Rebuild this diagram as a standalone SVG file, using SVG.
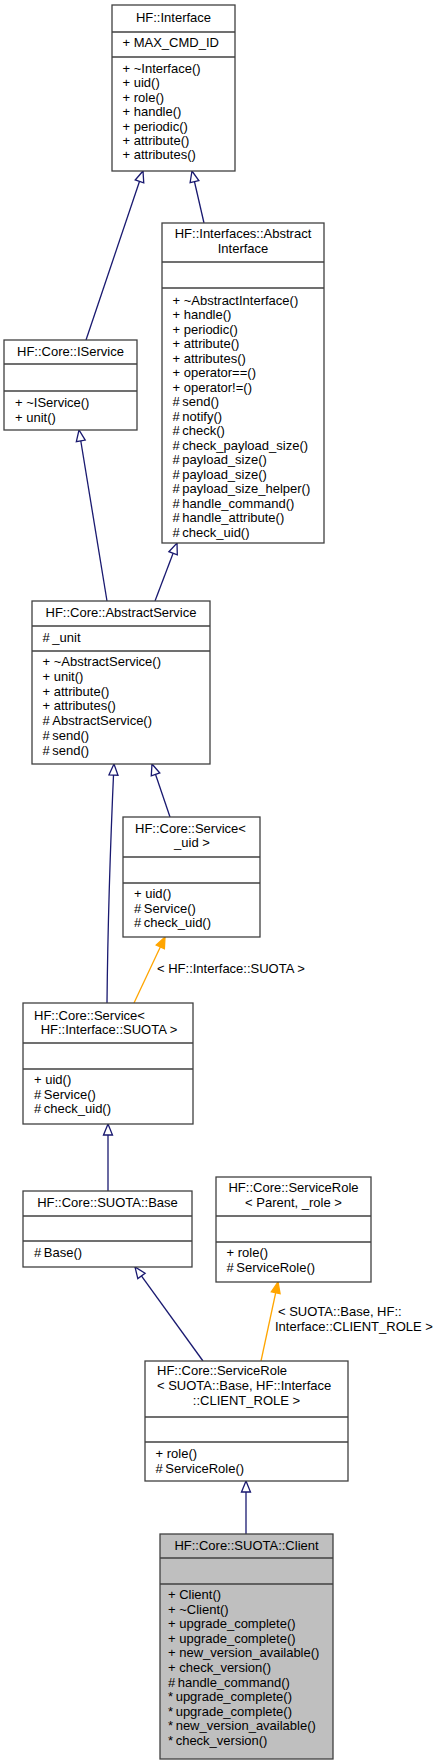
<svg xmlns="http://www.w3.org/2000/svg" width="443" height="1763" viewBox="0 0 443 1763">
<style>
text{font-family:"Liberation Sans",Arial,Helvetica,sans-serif;font-size:13px;fill:#000}
.c{text-anchor:middle}
.box{fill:#fff;stroke:#404040;stroke-width:1.3}
.cur{fill:#bfbfbf;stroke:#404040;stroke-width:1.3}
.sep{stroke:#404040;stroke-width:1.3}
.inh{fill:none;stroke:#191970;stroke-width:1.3;marker-end:url(#hollow)}
.tpl{fill:none;stroke:#ffa500;stroke-width:1.3;marker-end:url(#solid)}
</style>
<defs>
<marker id="hollow" markerUnits="userSpaceOnUse" markerWidth="14" markerHeight="12" refX="12" refY="5" orient="auto" overflow="visible">
<path d="M1,0.5 L12,5 L1,9.5 z" fill="#fff" stroke="#191970" stroke-width="1.3"/>
</marker>
<marker id="solid" markerUnits="userSpaceOnUse" markerWidth="14" markerHeight="12" refX="12" refY="5" orient="auto" overflow="visible">
<path d="M1,0.5 L12,5 L1,9.5 z" fill="#ffa500" stroke="#ffa500" stroke-width="1.3"/>
</marker>
</defs>
<rect width="443" height="1763" fill="#fff"/>

<g id="connectors">
<path class="inh" d="M86,340 L143,171"/>
<path class="inh" d="M204,223 L192,171"/>
<path class="inh" d="M107,601 L79,430"/>
<path class="inh" d="M155,601 L177,543"/>
<path class="inh" d="M107,1003 C108,900 111,830 114,764"/>
<path class="inh" d="M170,817 L152,764"/>
<path class="tpl" d="M134,1003 L165,937"/>
<path class="inh" d="M108,1191 L108,1124"/>
<path class="inh" d="M203,1361 L135,1267"/>
<path class="tpl" d="M261,1361 L278,1282"/>
<path class="inh" d="M246,1534 L246,1481"/>
<text x="157" y="973">&lt; HF::Interface::SUOTA &gt;</text>
<text x="278" y="1316">&lt; SUOTA::Base, HF::</text>
<text x="275" y="1331">Interface::CLIENT_ROLE &gt;</text>
</g>

<g id="node_interface">
<rect class="box" x="112" y="5" width="123" height="166"/>
<line class="sep" x1="112" y1="32" x2="235" y2="32"/>
<line class="sep" x1="112" y1="57" x2="235" y2="57"/>
<text class="c" x="173.5" y="22">HF::Interface</text>
<text x="122.5" y="47">+ MAX_CMD_ID</text>
<text x="122.5" y="73">+ ~Interface()</text>
<text x="122.5" y="87.4">+ uid()</text>
<text x="122.5" y="101.8">+ role()</text>
<text x="122.5" y="116.2">+ handle()</text>
<text x="122.5" y="130.6">+ periodic()</text>
<text x="122.5" y="145">+ attribute()</text>
<text x="122.5" y="159.4">+ attributes()</text>
</g>

<g id="node_abstractinterface">
<rect class="box" x="162" y="223" width="162" height="320"/>
<line class="sep" x1="162" y1="262" x2="324" y2="262"/>
<line class="sep" x1="162" y1="288" x2="324" y2="288"/>
<text class="c" x="243" y="238">HF::Interfaces::Abstract</text>
<text class="c" x="243" y="253">Interface</text>
<text x="172.5" y="304.5">+ ~AbstractInterface()</text>
<text x="172.5" y="319">+ handle()</text>
<text x="172.5" y="333.5">+ periodic()</text>
<text x="172.5" y="348">+ attribute()</text>
<text x="172.5" y="362.5">+ attributes()</text>
<text x="172.5" y="377">+ operator==()</text>
<text x="172.5" y="391.5">+ operator!=()</text>
<text x="172.5" y="406">#&#8201;send()</text>
<text x="172.5" y="420.5">#&#8201;notify()</text>
<text x="172.5" y="435">#&#8201;check()</text>
<text x="172.5" y="449.5">#&#8201;check_payload_size()</text>
<text x="172.5" y="464">#&#8201;payload_size()</text>
<text x="172.5" y="478.5">#&#8201;payload_size()</text>
<text x="172.5" y="493">#&#8201;payload_size_helper()</text>
<text x="172.5" y="507.5">#&#8201;handle_command()</text>
<text x="172.5" y="522">#&#8201;handle_attribute()</text>
<text x="172.5" y="536.5">#&#8201;check_uid()</text>
</g>

<g id="node_iservice">
<rect class="box" x="4" y="340" width="133" height="90"/>
<line class="sep" x1="4" y1="364" x2="137" y2="364"/>
<line class="sep" x1="4" y1="391" x2="137" y2="391"/>
<text class="c" x="70.5" y="356">HF::Core::IService</text>
<text x="15" y="407">+ ~IService()</text>
<text x="15" y="421.5">+ unit()</text>
</g>

<g id="node_abstractservice">
<rect class="box" x="32" y="601" width="178" height="163"/>
<line class="sep" x1="32" y1="626" x2="210" y2="626"/>
<line class="sep" x1="32" y1="651" x2="210" y2="651"/>
<text class="c" x="121" y="617">HF::Core::AbstractService</text>
<text x="42.5" y="642">#&#8201;_unit</text>
<text x="42.5" y="666">+ ~AbstractService()</text>
<text x="42.5" y="680.8">+ unit()</text>
<text x="42.5" y="695.6">+ attribute()</text>
<text x="42.5" y="710.4">+ attributes()</text>
<text x="42.5" y="725.2">#&#8201;AbstractService()</text>
<text x="42.5" y="740">#&#8201;send()</text>
<text x="42.5" y="754.8">#&#8201;send()</text>
</g>

<g id="node_service_uid">
<rect class="box" x="123" y="817" width="137" height="120"/>
<line class="sep" x1="123" y1="857" x2="260" y2="857"/>
<line class="sep" x1="123" y1="883" x2="260" y2="883"/>
<text x="135" y="833">HF::Core::Service&lt;</text>
<text class="c" x="192" y="847">_uid &gt;</text>
<text x="134" y="898">+ uid()</text>
<text x="134" y="912.6">#&#8201;Service()</text>
<text x="134" y="927.2">#&#8201;check_uid()</text>
</g>

<g id="node_service_suota">
<rect class="box" x="23" y="1003" width="170" height="121"/>
<line class="sep" x1="23" y1="1043" x2="193" y2="1043"/>
<line class="sep" x1="23" y1="1069" x2="193" y2="1069"/>
<text x="34" y="1020">HF::Core::Service&lt;</text>
<text class="c" x="109" y="1034">HF::Interface::SUOTA &gt;</text>
<text x="34" y="1084">+ uid()</text>
<text x="34" y="1098.6">#&#8201;Service()</text>
<text x="34" y="1113.2">#&#8201;check_uid()</text>
</g>

<g id="node_base">
<rect class="box" x="23" y="1191" width="169" height="76"/>
<line class="sep" x1="23" y1="1216" x2="192" y2="1216"/>
<line class="sep" x1="23" y1="1241" x2="192" y2="1241"/>
<text class="c" x="107.5" y="1207">HF::Core::SUOTA::Base</text>
<text x="34" y="1257">#&#8201;Base()</text>
</g>

<g id="node_servicerole_parent">
<rect class="box" x="216" y="1177" width="155" height="105"/>
<line class="sep" x1="216" y1="1216" x2="371" y2="1216"/>
<line class="sep" x1="216" y1="1242" x2="371" y2="1242"/>
<text class="c" x="293.5" y="1192">HF::Core::ServiceRole</text>
<text class="c" x="293.5" y="1207">&lt; Parent, _role &gt;</text>
<text x="226.5" y="1257">+ role()</text>
<text x="226.5" y="1271.6">#&#8201;ServiceRole()</text>
</g>

<g id="node_servicerole_suota">
<rect class="box" x="145" y="1361" width="203" height="120"/>
<line class="sep" x1="145" y1="1417" x2="348" y2="1417"/>
<line class="sep" x1="145" y1="1442" x2="348" y2="1442"/>
<text x="157" y="1375">HF::Core::ServiceRole</text>
<text x="157" y="1390">&lt; SUOTA::Base, HF::Interface</text>
<text class="c" x="246.5" y="1405">::CLIENT_ROLE &gt;</text>
<text x="155.5" y="1458">+ role()</text>
<text x="155.5" y="1472.6">#&#8201;ServiceRole()</text>
</g>

<g id="node_client">
<rect class="cur" x="160" y="1534" width="173" height="225"/>
<line class="sep" x1="160" y1="1558" x2="333" y2="1558"/>
<line class="sep" x1="160" y1="1584" x2="333" y2="1584"/>
<text class="c" x="246.5" y="1550">HF::Core::SUOTA::Client</text>
<text x="168" y="1599">+ Client()</text>
<text x="168" y="1613.6">+ ~Client()</text>
<text x="168" y="1628.2">+ upgrade_complete()</text>
<text x="168" y="1642.8">+ upgrade_complete()</text>
<text x="168" y="1657.4">+ new_version_available()</text>
<text x="168" y="1672">+ check_version()</text>
<text x="168" y="1686.6">#&#8201;handle_command()</text>
<text x="168" y="1701.2">*&#8201;upgrade_complete()</text>
<text x="168" y="1715.8">*&#8201;upgrade_complete()</text>
<text x="168" y="1730.4">*&#8201;new_version_available()</text>
<text x="168" y="1745">*&#8201;check_version()</text>
</g>
</svg>
